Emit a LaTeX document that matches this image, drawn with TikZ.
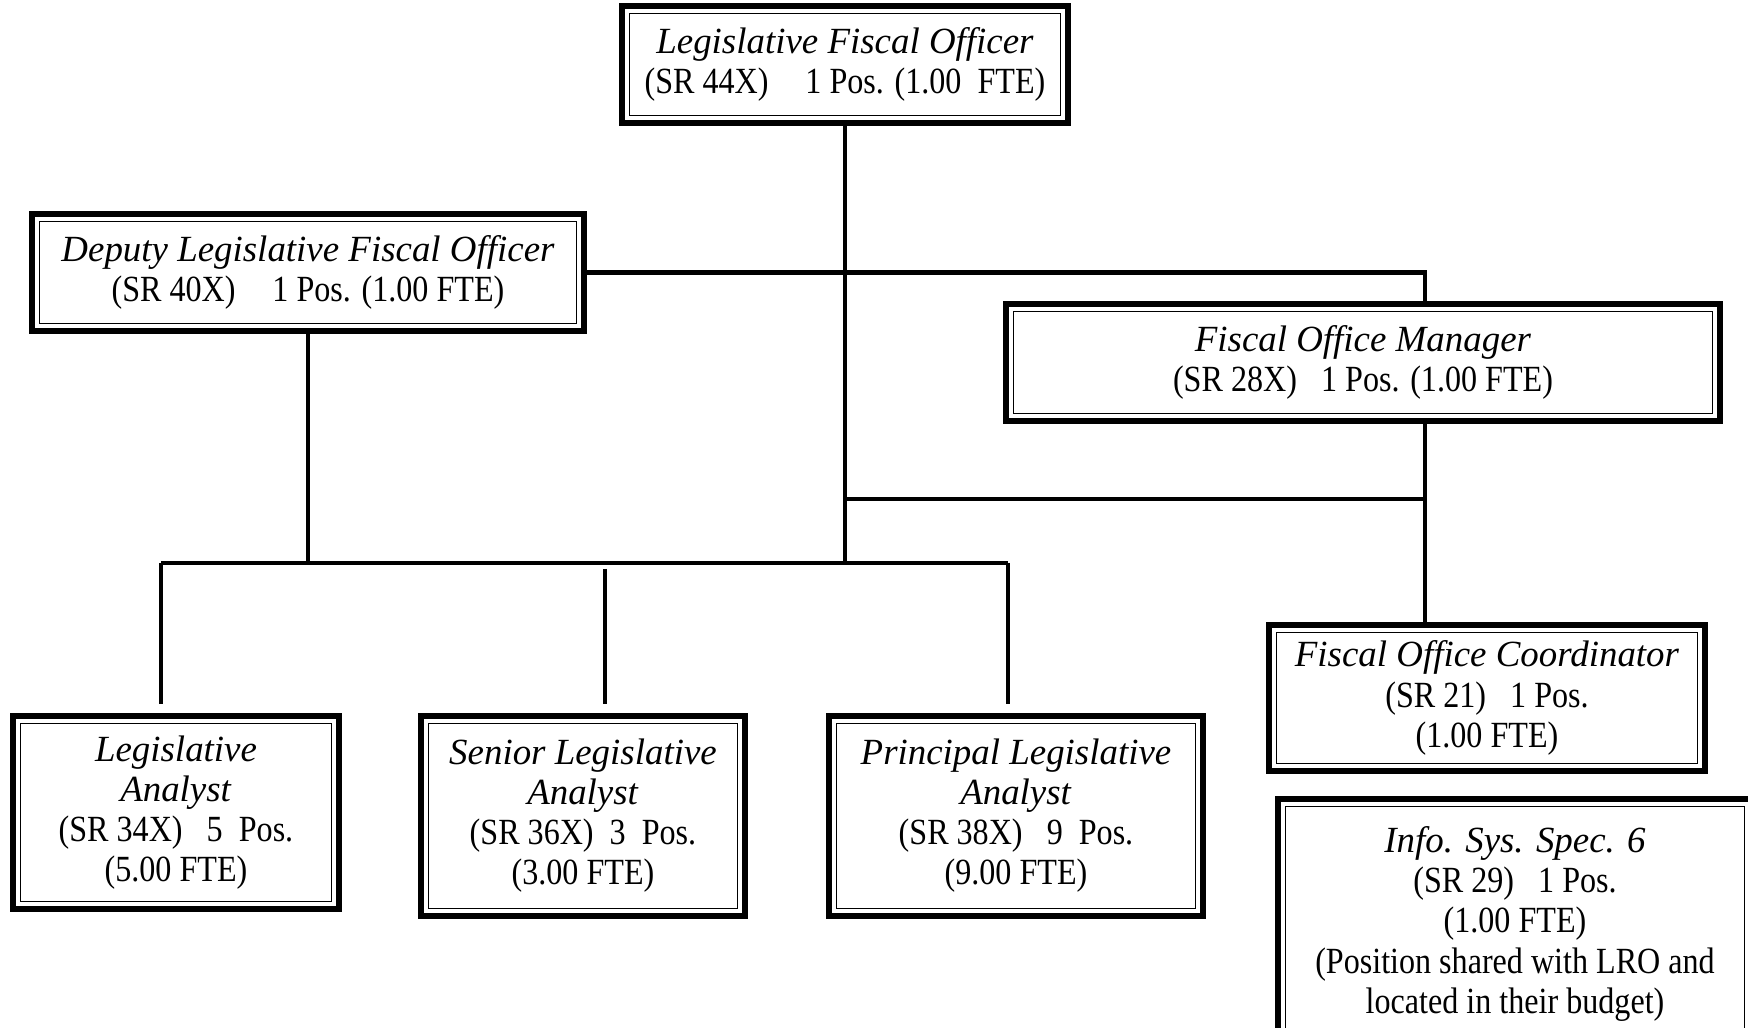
\documentclass[tikz,border=0pt]{standalone}
\usepackage{fontspec}
\setmainfont{Liberation Serif}[UprightFeatures={FakeStretch=0.87}]
\newcommand{\orgfont}{\fontsize{10.5}{11.4}\selectfont}

\begin{document}
\begin{tikzpicture}[
    post/.style={draw, line width=0.06cm, align=center, inner sep=0pt, font=\orgfont,
        path picture={\draw[line width=0.015cm]
            ([shift={(0.075cm,0.075cm)}]path picture bounding box.south west) rectangle
            ([shift={(-0.075cm,-0.075cm)}]path picture bounding box.north east);}},
    link/.style={line width=0.045cm}
]
\useasboundingbox (0,0) rectangle (17.48,10.28);

% Top level
\node[post, minimum width=4.46cm, minimum height=1.17cm] (lfo) at (8.45,9.635)
    {\textit{Legislative Fiscal Officer}\\(SR 44X)\quad 1 Pos. (1.00~~FTE)};

% Second level
\node[post, minimum width=5.52cm, minimum height=1.17cm] (dep) at (3.08,7.555)
    {\textit{Deputy Legislative Fiscal Officer}\\(SR 40X)\quad 1 Pos. (1.00 FTE)};
\node[post, minimum width=7.14cm, minimum height=1.17cm] (fom) at (13.63,6.655)
    {\textit{Fiscal Office Manager}\\(SR 28X)~~ 1 Pos. (1.00 FTE)};

% Analysts
\node[post, minimum width=3.26cm, minimum height=1.93cm] (la) at (1.76,2.155)
    {\textit{Legislative}\\\textit{Analyst}\\(SR 34X)~~ 5~ Pos.\\(5.00 FTE)};
\node[post, minimum width=3.24cm, minimum height=2.00cm] (sla) at (5.83,2.12)
    {\textit{Senior Legislative}\\\textit{Analyst}\\(SR 36X)~ 3~ Pos.\\(3.00 FTE)};
\node[post, minimum width=3.74cm, minimum height=2.00cm] (pla) at (10.16,2.12)
    {\textit{Principal Legislative}\\\textit{Analyst}\\(SR 38X)~~ 9~ Pos.\\(9.00 FTE)};

% Office staff
\node[post, minimum width=4.36cm, minimum height=1.46cm] (foc) at (14.87,3.30)
    {\textit{Fiscal Office Coordinator}\\(SR 21)~~ 1 Pos.\\(1.00 FTE)};
\node[post, minimum width=4.74cm, minimum height=2.50cm] (iss) at (15.15,1.04)
    {\textit{Info. Sys. Spec. 6}\\(SR 29)~~ 1 Pos.\\(1.00 FTE)\\(Position shared with LRO and\\located in their budget)};

% Junction points
\coordinate (spine) at (14.25,6.655);
\coordinate (bar) at (8.47,4.65);
\coordinate (mid) at (8.47,5.29);
\coordinate (laDrop) at (1.61,4.65);
\coordinate (slaDrop) at (6.05,4.59);
\coordinate (plaDrop) at (10.08,4.65);

% Connectors
\draw[link] (lfo.south) -- (lfo.south |- bar);
\draw[link] (dep.east) -| (spine |- fom.north);
\draw[link] (dep.south) -- (dep.south |- bar);
\draw[link] (mid) -- (mid -| spine);
\draw[link] (spine |- fom.south) -- (spine |- foc.north);
\draw[link] (laDrop) -- (plaDrop);
\draw[link, shorten >=0.09cm] (laDrop) -- (laDrop |- la.north);
\draw[link, shorten >=0.09cm] (slaDrop) -- (slaDrop |- sla.north);
\draw[link, shorten >=0.09cm] (plaDrop) -- (plaDrop |- pla.north);
\end{tikzpicture}
\end{document}
